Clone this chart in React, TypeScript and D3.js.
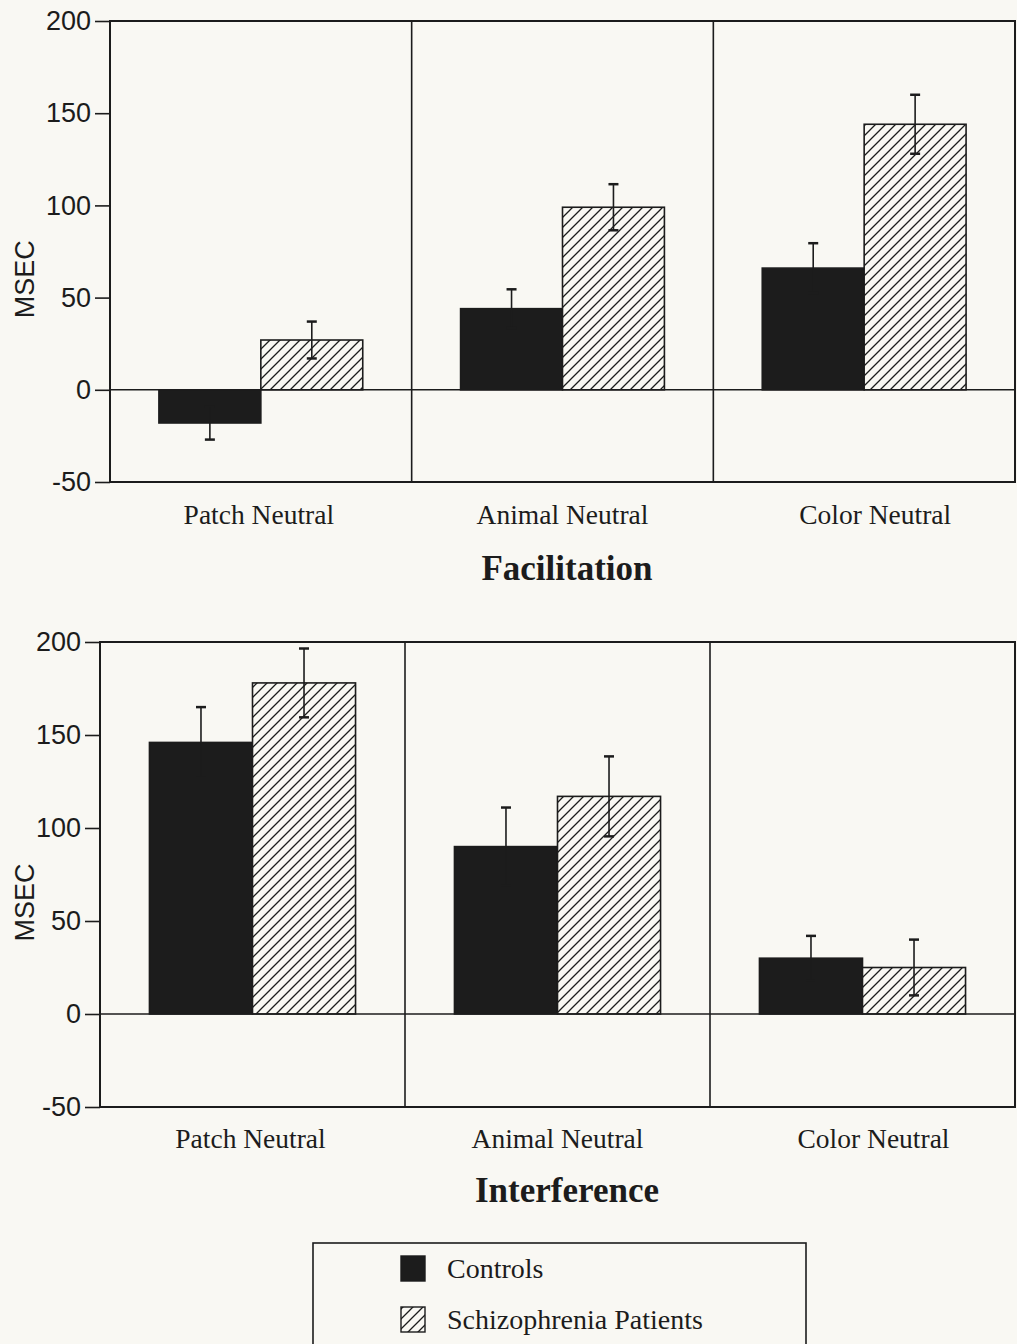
import { useEffect, useRef } from 'react'
import * as d3 from 'd3'

const categories = ['Patch Neutral', 'Animal Neutral', 'Color Neutral']
const groups = ['Controls', 'Schizophrenia Patients']
const yTicks = [-50, 0, 50, 100, 150, 200]

// Facilitation (msec)
const facControls = [-18, 44, 66]
const facControlsSE = [9, 10.5, 13.5]
const facPatients = [27, 99, 144]
const facPatientsSE = [10, 12.5, 16]

// Interference (msec)
const intControls = [146, 90, 30]
const intControlsSE = [19, 21, 12]
const intPatients = [178, 117, 25]
const intPatientsSE = [18.5, 21.5, 15]

const W = 1017
const H = 1344
const INK = '#1c1c1c'
const PAPER = '#f9f8f3'
const labelNudge = [-2, 0, 11]

export default function App() {
  const ref = useRef<SVGSVGElement | null>(null)

  useEffect(() => {
    document.body.style.margin = '0'
    const svg = d3.select(ref.current)
    svg.selectAll('*').remove()

    svg.append('rect').attr('width', W).attr('height', H).attr('fill', PAPER)

    const defs = svg.append('defs')
    const pat = defs.append('pattern')
      .attr('id', 'hatch')
      .attr('patternUnits', 'userSpaceOnUse')
      .attr('width', 10)
      .attr('height', 10)
    pat.append('rect').attr('width', 10).attr('height', 10).attr('fill', PAPER)
    pat.append('path')
      .attr('d', 'M-2,2 L2,-2 M0,10 L10,0 M8,12 L12,8')
      .attr('stroke', INK)
      .attr('stroke-width', 1.3)

    const panels = [
      { title: 'Facilitation', left: 110, top: 21, bottom: 482, catY: 524, titleY: 580,
        series: [
          { vals: facControls, se: facControlsSE },
          { vals: facPatients, se: facPatientsSE },
        ] },
      { title: 'Interference', left: 100, top: 642, bottom: 1107, catY: 1148, titleY: 1202,
        series: [
          { vals: intControls, se: intControlsSE },
          { vals: intPatients, se: intPatientsSE },
        ] },
    ]
    const right = 1015

    panels.forEach(p => {
      const g = svg.append('g')
      const y = d3.scaleLinear().domain([-50, 200]).range([p.bottom, p.top])
      const x0 = d3.scaleBand().domain(categories).range([p.left, right]).padding(0)
      const x1 = d3.scaleBand().domain(groups).range([0, x0.bandwidth()])
        .paddingInner(0).paddingOuter(0.48)

      // frame + panel dividers
      g.append('rect')
        .attr('x', p.left).attr('y', p.top)
        .attr('width', right - p.left).attr('height', p.bottom - p.top)
        .attr('fill', 'none').attr('stroke', INK).attr('stroke-width', 2)
      categories.slice(1).forEach(c => {
        g.append('line')
          .attr('x1', x0(c)!).attr('x2', x0(c)!)
          .attr('y1', p.top).attr('y2', p.bottom)
          .attr('stroke', INK).attr('stroke-width', 1.6)
      })

      // y axis ticks
      const axis = g.append('g')
        .attr('transform', `translate(${p.left},0)`)
        .call(d3.axisLeft(y).tickValues(yTicks).tickSize(15).tickPadding(4)
          .tickFormat(d => String(d)))
      axis.select('.domain').remove()
      axis.selectAll('line').attr('stroke', INK).attr('stroke-width', 1.6)
      axis.selectAll('text')
        .attr('font-family', 'Liberation Sans, Arial, sans-serif')
        .attr('font-size', 27)
        .attr('fill', INK)

      g.append('text')
        .attr('transform', `translate(34,${(y(100) + y(20)) / 2}) rotate(-90)`)
        .attr('text-anchor', 'middle')
        .attr('font-family', 'Liberation Sans, Arial, sans-serif')
        .attr('font-size', 27)
        .attr('fill', INK)
        .text('MSEC')

      // bars
      p.series.forEach((s, gi) => {
        categories.forEach((c, ci) => {
          const v = s.vals[ci]
          const bx = x0(c)! + x1(groups[gi])!
          const bw = x1.bandwidth()
          g.append('rect')
            .attr('x', bx).attr('width', bw)
            .attr('y', y(Math.max(0, v)))
            .attr('height', Math.abs(y(v) - y(0)))
            .attr('fill', gi === 0 ? INK : 'url(#hatch)')
            .attr('stroke', INK)
            .attr('stroke-width', 1.6)
        })
      })

      // zero line
      g.append('line')
        .attr('x1', p.left).attr('x2', right)
        .attr('y1', y(0)).attr('y2', y(0))
        .attr('stroke', INK).attr('stroke-width', 1.6)

      // error bars
      p.series.forEach((s, gi) => {
        categories.forEach((c, ci) => {
          const v = s.vals[ci]
          const e = s.se[ci]
          const cx = x0(c)! + x1(groups[gi])! + x1.bandwidth() / 2
          const eg = g.append('g').attr('stroke', INK).attr('stroke-width', 1.6)
          eg.append('line').attr('x1', cx).attr('x2', cx)
            .attr('y1', y(v - e)).attr('y2', y(v + e))
          ;[v - e, v + e].forEach(end => {
            eg.append('line')
              .attr('x1', cx - 5).attr('x2', cx + 5)
              .attr('y1', y(end)).attr('y2', y(end))
              .attr('stroke-width', 2.5)
          })
        })
      })

      // category labels
      categories.forEach((c, ci) => {
        g.append('text')
          .attr('x', x0(c)! + x0.bandwidth() / 2 + labelNudge[ci])
          .attr('y', p.catY)
          .attr('text-anchor', 'middle')
          .attr('font-family', 'Liberation Serif, Times New Roman, serif')
          .attr('font-size', 27.5)
          .attr('fill', INK)
          .text(c)
      })

      g.append('text')
        .attr('x', 567)
        .attr('y', p.titleY)
        .attr('text-anchor', 'middle')
        .attr('font-family', 'Liberation Serif, Times New Roman, serif')
        .attr('font-weight', 'bold')
        .attr('font-size', 35)
        .attr('fill', INK)
        .text(p.title)
    })

    // legend
    const lg = svg.append('g')
    lg.append('rect')
      .attr('x', 313).attr('y', 1243)
      .attr('width', 493).attr('height', 120)
      .attr('fill', 'none').attr('stroke', INK).attr('stroke-width', 1.6)
    const ly = d3.scalePoint().domain(groups).range([1269, 1320])
    groups.forEach((gname, i) => {
      lg.append('rect')
        .attr('x', 401).attr('y', ly(gname)! - 13)
        .attr('width', 24).attr('height', 25)
        .attr('fill', i === 0 ? INK : 'url(#hatch)')
        .attr('stroke', INK).attr('stroke-width', 1.4)
      lg.append('text')
        .attr('x', 447).attr('y', ly(gname)! + 9)
        .attr('font-family', 'Liberation Serif, Times New Roman, serif')
        .attr('font-size', 28)
        .attr('fill', INK)
        .text(gname)
    })
  }, [])

  return (
    <div style={{ position: 'absolute', left: 0, top: 0 }}>
      <svg ref={ref} width={W} height={H} style={{ display: 'block' }} />
    </div>
  )
}
